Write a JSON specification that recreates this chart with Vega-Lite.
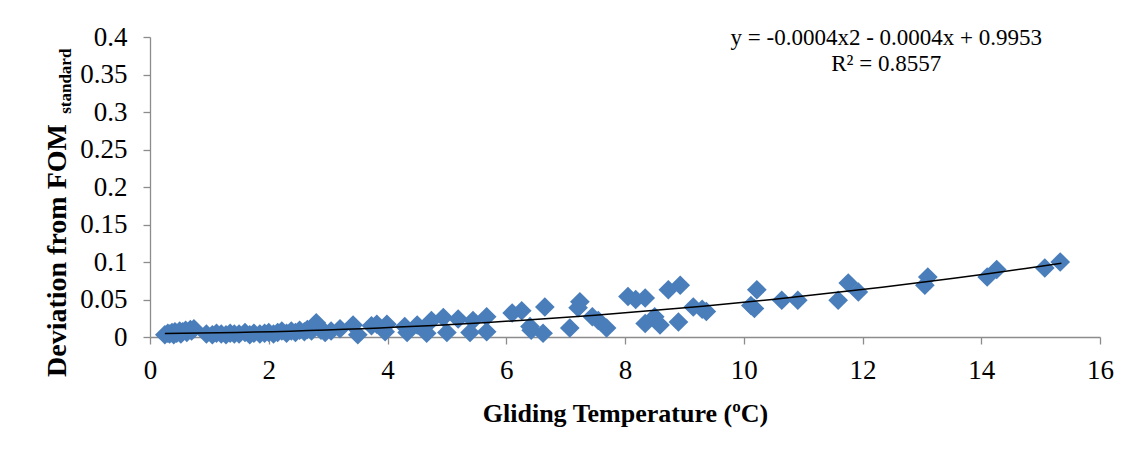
{
  "$schema": "https://vega.github.io/schema/vega-lite/v6.json",
  "width": 950,
  "height": 300,
  "autosize": "none",
  "padding": {"left": 150, "top": 37, "right": 36, "bottom": 116},
  "background": "white",
  "config": {
    "view": {"stroke": null},
    "font": "Liberation Serif",
    "style": {"guide-label": {"font": "Liberation Serif"}, "guide-title": {"font": "Liberation Serif"}},
    "axis": {"labelFont": "Liberation Serif", "titleFont": "Liberation Serif", "labelFlush": false, "labelOverlap": false}
  },
  "datasets": {
    "points": [
      {"x": 0.25, "y": 0.003}, {"x": 0.3, "y": 0.005}, {"x": 0.33, "y": 0.004}, {"x": 0.37, "y": 0.006},
      {"x": 0.4, "y": 0.003}, {"x": 0.42, "y": 0.007}, {"x": 0.45, "y": 0.005}, {"x": 0.5, "y": 0.008},
      {"x": 0.52, "y": 0.004}, {"x": 0.55, "y": 0.007}, {"x": 0.6, "y": 0.009}, {"x": 0.62, "y": 0.006},
      {"x": 0.68, "y": 0.01}, {"x": 0.7, "y": 0.008}, {"x": 0.74, "y": 0.011},
      {"x": 0.95, "y": 0.004}, {"x": 1.05, "y": 0.003}, {"x": 1.12, "y": 0.005}, {"x": 1.2, "y": 0.004},
      {"x": 1.28, "y": 0.003}, {"x": 1.35, "y": 0.005}, {"x": 1.42, "y": 0.004}, {"x": 1.5, "y": 0.004},
      {"x": 1.6, "y": 0.006}, {"x": 1.68, "y": 0.003}, {"x": 1.75, "y": 0.005}, {"x": 1.85, "y": 0.004},
      {"x": 1.93, "y": 0.005}, {"x": 2.0, "y": 0.006}, {"x": 2.08, "y": 0.004}, {"x": 2.15, "y": 0.006},
      {"x": 2.22, "y": 0.008}, {"x": 2.3, "y": 0.005}, {"x": 2.38, "y": 0.008}, {"x": 2.45, "y": 0.006},
      {"x": 2.52, "y": 0.009}, {"x": 2.6, "y": 0.007}, {"x": 2.65, "y": 0.01}, {"x": 2.72, "y": 0.008},
      {"x": 2.8, "y": 0.019}, {"x": 2.88, "y": 0.009}, {"x": 2.95, "y": 0.006}, {"x": 3.05, "y": 0.008},
      {"x": 3.2, "y": 0.011}, {"x": 3.42, "y": 0.016}, {"x": 3.5, "y": 0.003}, {"x": 3.73, "y": 0.015},
      {"x": 3.82, "y": 0.017}, {"x": 3.96, "y": 0.007}, {"x": 3.99, "y": 0.017}, {"x": 4.29, "y": 0.014},
      {"x": 4.33, "y": 0.006}, {"x": 4.5, "y": 0.016}, {"x": 4.66, "y": 0.005}, {"x": 4.74, "y": 0.022},
      {"x": 4.94, "y": 0.026}, {"x": 5.0, "y": 0.006}, {"x": 5.19, "y": 0.024}, {"x": 5.39, "y": 0.006},
      {"x": 5.44, "y": 0.022}, {"x": 5.67, "y": 0.027}, {"x": 5.67, "y": 0.007},
      {"x": 6.1, "y": 0.032}, {"x": 6.26, "y": 0.035}, {"x": 6.4, "y": 0.014}, {"x": 6.42, "y": 0.009},
      {"x": 6.65, "y": 0.04}, {"x": 6.62, "y": 0.005}, {"x": 7.07, "y": 0.012}, {"x": 7.24, "y": 0.047},
      {"x": 7.21, "y": 0.039}, {"x": 7.45, "y": 0.027}, {"x": 7.55, "y": 0.022}, {"x": 7.69, "y": 0.012},
      {"x": 8.05, "y": 0.054}, {"x": 8.18, "y": 0.05}, {"x": 8.34, "y": 0.052}, {"x": 8.34, "y": 0.018},
      {"x": 8.5, "y": 0.027}, {"x": 8.59, "y": 0.016}, {"x": 8.73, "y": 0.063}, {"x": 8.93, "y": 0.069},
      {"x": 8.9, "y": 0.02}, {"x": 9.15, "y": 0.04}, {"x": 9.3, "y": 0.037}, {"x": 9.37, "y": 0.034},
      {"x": 10.12, "y": 0.042}, {"x": 10.18, "y": 0.038}, {"x": 10.22, "y": 0.063}, {"x": 10.64, "y": 0.049},
      {"x": 10.91, "y": 0.049}, {"x": 11.59, "y": 0.049}, {"x": 11.76, "y": 0.072}, {"x": 11.93, "y": 0.06},
      {"x": 13.05, "y": 0.069}, {"x": 13.1, "y": 0.08}, {"x": 14.1, "y": 0.08}, {"x": 14.26, "y": 0.09},
      {"x": 15.07, "y": 0.092}, {"x": 15.33, "y": 0.1}
    ],
    "labels": [
      {"x": 12.4, "y": 0.3987, "text": "y = -0.0004x2 - 0.0004x + 0.9953"},
      {"x": 12.4, "y": 0.364, "text": "R² = 0.8557"}
    ],
    "sub": [
      {"x": 0, "y": 0.341, "text": "standard"}
    ]
  },
  "encoding": {
    "x": {
      "field": "x", "type": "quantitative",
      "scale": {"domain": [0, 16], "nice": false, "zero": false},
      "axis": {
        "values": [0, 2, 4, 6, 8, 10, 12, 14, 16],
        "format": "d",
        "grid": false,
        "labelFlush": false, "labelOverlap": false,
        "labelFont": "Liberation Serif", "labelFontSize": 27, "labelColor": "#000000", "labelPadding": 13,
        "domainColor": "#8c8c8c", "domainWidth": 1.3, "ticks": true, "tickColor": "#8c8c8c", "tickWidth": 1.3, "tickSize": 7,
        "title": "Gliding Temperature (ºC)",
        "titleFont": "Liberation Serif", "titleFontSize": 26, "titleFontWeight": "bold", "titleColor": "#000000",
        "titleY": 76, "titleBaseline": "middle"
      }
    },
    "y": {
      "field": "y", "type": "quantitative",
      "scale": {"domain": [0, 0.4], "nice": false, "zero": false},
      "axis": {
        "values": [0, 0.05, 0.1, 0.15, 0.2, 0.25, 0.3, 0.35, 0.4],
        "format": "~g",
        "grid": false,
        "labelFlush": false, "labelOverlap": false,
        "labelFont": "Liberation Serif", "labelFontSize": 27, "labelColor": "#000000", "labelPadding": 16,
        "domainColor": "#8c8c8c", "domainWidth": 1.3, "ticks": true, "tickColor": "#8c8c8c", "tickWidth": 1.3, "tickSize": 7,
        "title": "Deviation from FOM",
        "titleFont": "Liberation Serif", "titleFontSize": 28, "titleFontWeight": "bold", "titleColor": "#000000",
        "titleX": -93, "titleY": 213, "titleAngle": 270, "titleBaseline": "middle", "titleAlign": "center"
      }
    }
  },
  "layer": [
    {
      "data": {"name": "points"},
      "mark": {"type": "point", "shape": "diamond", "filled": true, "size": 390, "color": "#4A7EBB", "opacity": 1}
    },
    {
      "data": {"name": "points"},
      "transform": [{"regression": "y", "on": "x", "method": "poly", "order": 2, "extent": [0.25, 15.35]}],
      "mark": {"type": "line", "color": "#000000", "strokeWidth": 1.5}
    },
    {
      "data": {"name": "labels"},
      "mark": {"type": "text", "font": "Liberation Serif", "fontSize": 23, "align": "center", "baseline": "middle", "color": "#000000"},
      "encoding": {"text": {"field": "text"}}
    },
    {
      "data": {"name": "sub"},
      "mark": {"type": "text", "font": "Liberation Serif", "fontSize": 17, "fontWeight": "bold", "align": "center", "baseline": "middle", "angle": 270, "dy": -84, "color": "#000000"},
      "encoding": {"text": {"field": "text"}}
    }
  ]
}
